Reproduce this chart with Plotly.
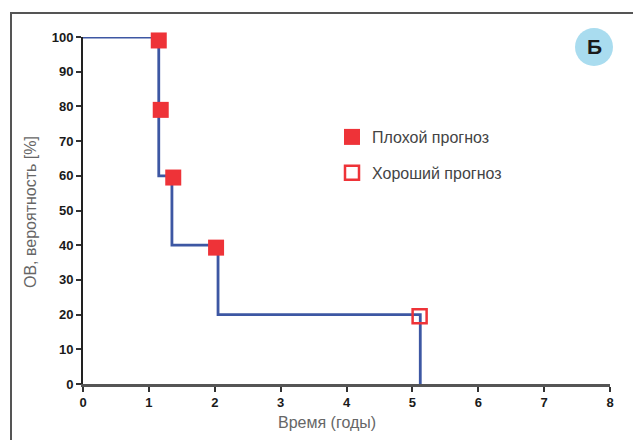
import plotly.graph_objects as go

# Kaplan-Meier step curve
step_time = [0, 1.15, 1.15, 1.35, 1.35, 2.05, 2.05, 5.12, 5.12]
step_surv = [100, 100, 60, 60, 40, 40, 20, 20, 0]

# Patient markers
poor_time = [1.15, 1.18, 1.37, 2.02]
poor_surv = [99, 79, 59.5, 39.3]
good_time = [5.11]
good_surv = [19.5]

x_ticks = [0, 1, 2, 3, 4, 5, 6, 7, 8]
y_ticks = [0, 10, 20, 30, 40, 50, 60, 70, 80, 90, 100]

RED = "#ee3338"
BLUE = "#3d57a3"

fig = go.Figure()
fig.add_trace(go.Scatter(x=step_time, y=step_surv, mode="lines",
                         line=dict(color=BLUE, width=2.8), showlegend=False,
                         cliponaxis=False, hoverinfo="skip"))
fig.add_trace(go.Scatter(x=poor_time, y=poor_surv, mode="markers", name="Плохой прогноз",
                         marker=dict(symbol="square", size=16, color=RED, line=dict(width=0)),
                         cliponaxis=False, legendgroup="a"))
fig.add_trace(go.Scatter(x=good_time, y=good_surv, mode="markers", name="Хороший прогноз",
                         marker=dict(symbol="square-open", size=14, color=RED, line=dict(width=2.5)),
                         cliponaxis=False, legendgroup="b"))

# page body has an 8px default margin; compensate
OFF = 8
W, H = 641, 440
# target plot area in window pixels: x 83..610, y 37..384
L = 83 - OFF
T = 37 - OFF
pw = 610 - 83
ph = 384 - 37
R = W - L - pw
B = H - T - ph

def px(xp):
    return (xp - 83) / pw

def py(yp):
    return (384 - yp) / ph

FONT = "Liberation Sans, Arial"
tickfont = dict(family=FONT, size=13, color="#1a1a1a", weight="bold")
titlefont = dict(family=FONT, size=16, color="#666666")

fig.update_layout(
    width=W, height=H,
    margin=dict(l=L, r=R, t=T, b=B, autoexpand=False),
    paper_bgcolor="white", plot_bgcolor="white",
    xaxis=dict(range=[0, 8], tickvals=x_ticks, ticks="outside", ticklen=5, tickwidth=2,
               tickcolor="#333", showline=True, linecolor="#555", linewidth=2.5,
               showgrid=False, zeroline=False, tickfont=tickfont, automargin=False),
    yaxis=dict(range=[0, 100], tickvals=y_ticks, ticks="outside", ticklen=5, tickwidth=2,
               tickcolor="#333", showline=True, linecolor="#222", linewidth=2,
               showgrid=False, zeroline=False, tickfont=tickfont, automargin=False),
    legend=dict(x=px(332), y=py(120), xanchor="left", yanchor="top",
                font=dict(family=FONT, size=16, color="#444444"),
                tracegroupgap=12, bgcolor="rgba(0,0,0,0)", itemwidth=30),
    shapes=[
        dict(type="rect", xref="paper", yref="paper",
             x0=px(11), x1=px(638), y0=py(460), y1=py(13),
             line=dict(color="#555555", width=2), layer="below"),
        dict(type="circle", xref="paper", yref="paper",
             xsizemode="pixel", ysizemode="pixel",
             xanchor=px(594), yanchor=py(47), x0=-19, x1=19, y0=-19, y1=19,
             fillcolor="#a9dcef", line=dict(width=0)),
    ],
    annotations=[
        dict(text="<b>Б</b>", xref="paper", yref="paper", x=px(594), y=py(47),
             showarrow=False, xanchor="center", yanchor="middle",
             font=dict(family=FONT, size=21, color="#1a1a1a")),
        dict(text="Время (годы)", xref="paper", yref="paper", x=px(327), y=py(422),
             showarrow=False, xanchor="center", yanchor="middle", font=titlefont),
        dict(text="ОВ, вероятность [%]", xref="paper", yref="paper", x=px(30), y=py(212),
             showarrow=False, xanchor="center", yanchor="middle", textangle=-90,
             font=titlefont),
    ],
)

fig.write_html("out.html")
